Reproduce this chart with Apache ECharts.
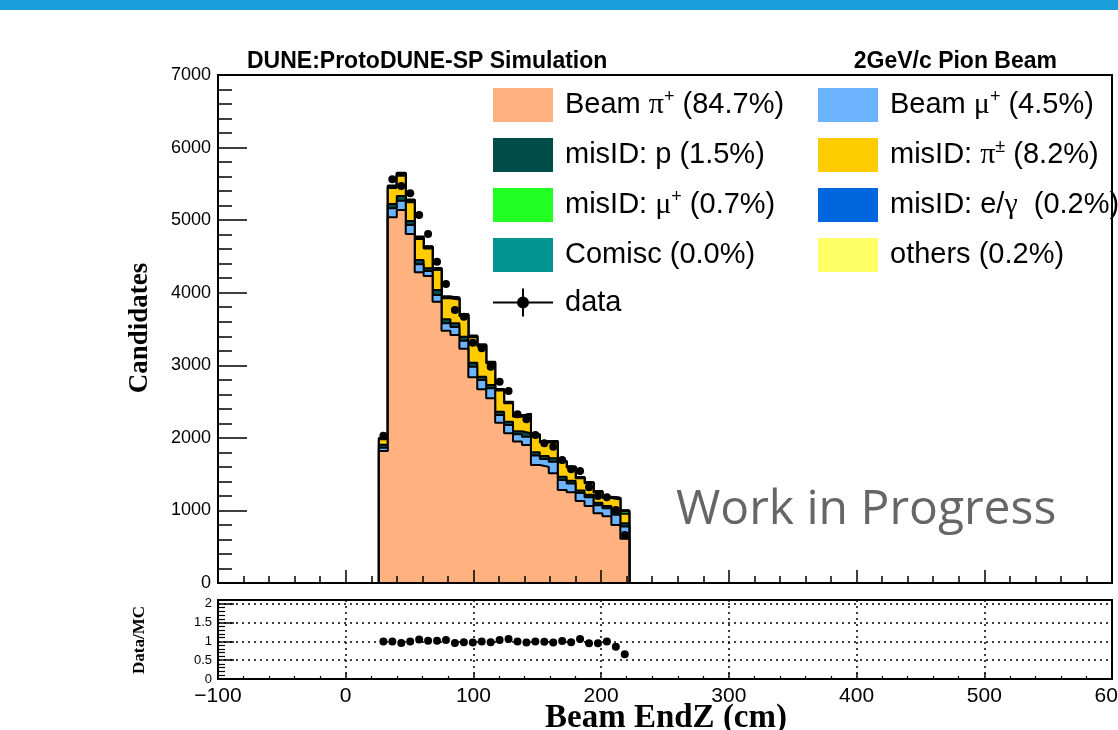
<!DOCTYPE html>
<html>
<head>
<meta charset="utf-8">
<script src="https://cdn.jsdelivr.net/npm/echarts@6/dist/echarts.min.js"></script>
<style>
  html, body { margin: 0; padding: 0; background: #fff; }
  #chart { width: 1118px; height: 730px; }
</style>
</head>
<body>
<div id="chart"></div>
<script>
// binning of Beam EndZ (cm): 100 bins from -100 to 600, only bins 26..222 are filled
const binStart = 26;
const binWidth = 7;

// stacked MC components, one value per bin
const piBeam = [1820, 5039, 5140, 4809, 4281, 4230, 3876, 3477, 3417, 3228, 2834, 2669, 2545, 2209, 2063, 1950, 1902, 1626, 1600, 1511, 1281, 1250, 1130, 1060, 960, 920, 800, 610];
const muBeam = [45, 124, 128, 124, 110, 70, 92, 101, 110, 110, 147, 128, 138, 106, 114, 100, 114, 130, 110, 161, 138, 120, 110, 120, 110, 110, 140, 170];
const misP   = [40, 59, 65, 55, 60, 36, 69, 55, 51, 55, 55, 46, 45, 46, 46, 40, 47, 45, 40, 46, 46, 40, 35, 35, 35, 30, 35, 45];
const misPi  = [75, 220, 280, 260, 290, 272, 275, 290, 330, 285, 350, 420, 300, 290, 255, 200, 250, 230, 185, 220, 200, 180, 170, 160, 145, 110, 175, 130];
const misMu  = [10, 19, 23, 20, 17, 18, 15, 14, 15, 15, 14, 15, 12, 12, 12, 12, 12, 10, 10, 10, 10, 9, 10, 12, 12, 11, 20, 35];
const misEG  = [3, 8, 9, 8, 8, 7, 7, 6, 6, 6, 5, 5, 5, 5, 4, 4, 4, 4, 4, 4, 3, 3, 3, 3, 3, 3, 3, 5];
const cosmic = [0, 0, 0, 0, 0, 0, 0, 0, 0, 0, 0, 0, 0, 0, 0, 0, 0, 0, 0, 0, 0, 0, 0, 0, 0, 0, 0, 0];
const others = [3, 9, 9, 8, 8, 7, 7, 6, 6, 6, 5, 5, 5, 5, 4, 4, 4, 4, 4, 4, 3, 3, 3, 3, 3, 3, 3, 6];

// data points and Data/MC ratio
const dataCounts = [2030, 5563, 5470, 5370, 5071, 4809, 4428, 4120, 3762, 3670, 3311, 3234, 2981, 2774, 2646, 2325, 2256, 2039, 1925, 1878, 1695, 1567, 1543, 1319, 1199, 1181, 1006, 661];
const dataMCRatio = [1.0, 1.0, 0.96, 1.0, 1.05, 1.02, 1.02, 1.04, 0.96, 0.98, 0.97, 1.0, 0.98, 1.04, 1.06, 1.0, 0.97, 1.0, 0.99, 0.97, 1.01, 0.98, 1.06, 0.95, 0.95, 1.0, 0.86, 0.66];

const layers = [
  { name: 'Beam π+',    vals: piBeam, color: '#ffb27f', label: '{n|Beam }{g|π}{s|+}{n| (84.7%)}' },
  { name: 'Beam μ+',    vals: muBeam, color: '#6cb4ff', label: '{n|Beam }{g|μ}{s|+}{n| (4.5%)}' },
  { name: 'misID: p',   vals: misP,   color: '#004c49', label: '{n|misID: p (1.5%)}' },
  { name: 'misID: π±',  vals: misPi,  color: '#ffcc00', label: '{n|misID: }{g|π}{s|±}{n| (8.2%)}' },
  { name: 'misID: μ+',  vals: misMu,  color: '#22ff22', label: '{n|misID: }{g|μ}{s|+}{n| (0.7%)}' },
  { name: 'misID: e/γ', vals: misEG,  color: '#0066dd', label: '{n|misID: e/}{g|γ}{n|  (0.2%)}' },
  { name: 'Comisc',     vals: cosmic, color: '#009490', label: '{n|Comisc (0.0%)}' },
  { name: 'others',     vals: others, color: '#ffff66', label: '{n|others (0.2%)}' }
];

const FONT = '"Liberation Sans", Arial, sans-serif';
const SERIF = '"Liberation Serif", "Times New Roman", serif';

// histogram outline as step points
function stepPoints(vals) {
  const pts = [[binStart, 0]];
  vals.forEach((v, i) => pts.push([binStart + i * binWidth, v]));
  const end = binStart + vals.length * binWidth;
  pts.push([end, vals[vals.length - 1]]);
  pts.push([end, 0]);
  return pts;
}

const running = piBeam.map(() => 0);
const histSeries = layers.map((l, idx) => {
  l.vals.forEach((v, i) => { running[i] += v; });
  return {
    name: l.name,
    type: 'line',
    xAxisIndex: 0, yAxisIndex: 0,
    step: 'end',
    data: stepPoints(running.slice()),
    symbol: 'none',
    silent: true,
    z: 10 - idx,
    itemStyle: { color: l.color },
    lineStyle: { color: '#000', width: 2 },
    areaStyle: { color: l.color, opacity: 1 },
    emphasis: { disabled: true }
  };
});

const centers = dataCounts.map((_, i) => binStart + binWidth * (i + 0.5));

const dataIcon = 'path://M0,16h60v2h-60z M29,3h2v28h-2z M24,17a6,6 0 1,1 12,0a6,6 0 1,1 -12,0z';
const legendName = {};
layers.forEach(l => { legendName[l.name] = l.label; });
legendName['data'] = '{n|data}';

function legendItem(name) {
  if (name === 'data') return { name: 'data', icon: dataIcon, itemStyle: { color: '#000', borderWidth: 0 } };
  const l = layers.find(x => x.name === name);
  return { name: name, icon: 'rect', itemStyle: { color: l.color, borderWidth: 0 } };
}

const legendText = {
  color: '#000',
  fontFamily: FONT,
  fontSize: 29,
  padding: [0, 0, 0, 7],
  rich: {
    n: { fontFamily: FONT, fontSize: 29, color: '#000', lineHeight: 34 },
    g: { fontFamily: SERIF, fontSize: 30, color: '#000', lineHeight: 34 },
    s: { fontFamily: FONT, fontSize: 18, color: '#000', lineHeight: 16, verticalAlign: 'top' }
  }
};

function baseLegend(left, names) {
  return {
    orient: 'vertical',
    left: left, top: 88,
    padding: 0,
    itemWidth: 60, itemHeight: 34, itemGap: 16,
    selectedMode: false,
    formatter: name => legendName[name],
    textStyle: legendText,
    data: names.map(legendItem)
  };
}

const dom = document.getElementById('chart');
const chart = echarts.init(dom, null, { renderer: 'canvas' });

const option = {
  animation: false,
  backgroundColor: '#fff',
  grid: [
    { left: 218, width: 894, top: 75, height: 508, show: true, borderColor: '#000', borderWidth: 2, backgroundColor: 'transparent', containLabel: false, outerBoundsMode: 'none' },
    { left: 218, width: 894, top: 600, height: 79, show: true, borderColor: '#000', borderWidth: 2, backgroundColor: 'transparent', containLabel: false, outerBoundsMode: 'none' }
  ],
  legend: [
    baseLegend(493, ['Beam π+', 'misID: p', 'misID: μ+', 'Comisc', 'data']),
    baseLegend(818, ['Beam μ+', 'misID: π±', 'misID: e/γ', 'others'])
  ],
  xAxis: [
    {
      type: 'value', gridIndex: 0, min: -100, max: 600, interval: 100, z: 50,
      axisLine: { onZero: false, lineStyle: { color: '#000', width: 2 } },
      axisTick: { inside: true, length: 13, lineStyle: { color: '#000', width: 1.5 } },
      minorTick: { show: true, splitNumber: 5, length: 7, lineStyle: { color: '#000', width: 1.5 } },
      axisLabel: { show: false },
      splitLine: { show: false }
    },
    {
      type: 'value', gridIndex: 1, min: -100, max: 600, interval: 100, z: 50,
      axisLine: { onZero: false, lineStyle: { color: '#000', width: 2 } },
      axisTick: { inside: true, length: 6, lineStyle: { color: '#000', width: 1.5 } },
      minorTick: { show: true, splitNumber: 5, length: 3, lineStyle: { color: '#000', width: 1.2 } },
      axisLabel: {
        color: '#000', fontFamily: FONT, fontSize: 21, margin: 7,
        showMinLabel: true, showMaxLabel: true,
        formatter: v => String(v).replace('-', '\u2212')
      },
      splitLine: { show: true, lineStyle: { color: '#000', width: 1.5, type: [2, 4] } }
    }
  ],
  yAxis: [
    {
      type: 'value', gridIndex: 0, min: 0, max: 7000, interval: 1000, z: 50,
      axisLine: { show: true, onZero: false, lineStyle: { color: '#000', width: 2 } },
      axisTick: { show: true, inside: true, length: 29, lineStyle: { color: '#000', width: 1.5 } },
      minorTick: { show: true, splitNumber: 5, length: 14, lineStyle: { color: '#000', width: 1.5 } },
      axisLabel: { color: '#000', fontFamily: FONT, fontSize: 18, margin: 7, formatter: v => String(v) },
      splitLine: { show: false }
    },
    {
      type: 'value', gridIndex: 1, min: 0, max: 2.1, interval: 0.5, z: 50,
      axisLine: { show: true, onZero: false, lineStyle: { color: '#000', width: 2 } },
      axisTick: { show: true, inside: true, length: 16, lineStyle: { color: '#000', width: 1.5 } },
      minorTick: { show: true, splitNumber: 5, length: 7, lineStyle: { color: '#000', width: 1.2 } },
      axisLabel: { color: '#000', fontFamily: FONT, fontSize: 13, margin: 6, showMaxLabel: false },
      splitLine: { show: true, lineStyle: { color: '#000', width: 1.5, type: [2, 4] } }
    }
  ],
  series: histSeries.slice().reverse().concat([
    {
      name: 'data',
      type: 'scatter',
      xAxisIndex: 0, yAxisIndex: 0,
      data: centers.map((x, i) => [x, dataCounts[i]]),
      symbol: 'circle', symbolSize: 8,
      itemStyle: { color: '#000', opacity: 1 },
      z: 30, silent: true
    },
    {
      name: 'ratio',
      type: 'scatter',
      xAxisIndex: 1, yAxisIndex: 1,
      data: centers.map((x, i) => [x, dataMCRatio[i]]),
      symbol: 'circle', symbolSize: 8,
      itemStyle: { color: '#000', opacity: 1 },
      z: 30, silent: true
    }
  ]),
  graphic: [
    { type: 'rect', shape: { x: 0, y: 0, width: 1118, height: 10 }, style: { fill: '#1a9fda' }, silent: true },
    { type: 'text', x: 247, y: 62, style: { text: 'DUNE:ProtoDUNE-SP Simulation', font: 'bold 23px ' + FONT, fill: '#000', textAlign: 'left', textVerticalAlign: 'middle' } },
    { type: 'text', x: 1057, y: 62, style: { text: '2GeV/c Pion Beam', font: 'bold 23px ' + FONT, fill: '#000', textAlign: 'right', textVerticalAlign: 'middle' } },
    { type: 'text', x: 140, y: 328, rotation: Math.PI / 2, style: { text: 'Candidates', font: 'bold 27px ' + SERIF, fill: '#000', textAlign: 'center', textVerticalAlign: 'middle' } },
    { type: 'text', x: 140, y: 640, rotation: Math.PI / 2, style: { text: 'Data/MC', font: 'bold 17px ' + SERIF, fill: '#000', textAlign: 'center', textVerticalAlign: 'middle' } },
    { type: 'text', x: 666, y: 718, style: { text: 'Beam EndZ (cm)', font: 'bold 33px ' + SERIF, fill: '#000', textAlign: 'center', textVerticalAlign: 'middle' } },
    { type: 'text', x: 676, y: 510, z: 40, style: { text: 'Work in Progress', font: '48px "Open Sans", "Noto Sans", sans-serif', fill: '#666', textAlign: 'left', textVerticalAlign: 'middle' } }
  ]
};

chart.setOption(option);
</script>
</body>
</html>
